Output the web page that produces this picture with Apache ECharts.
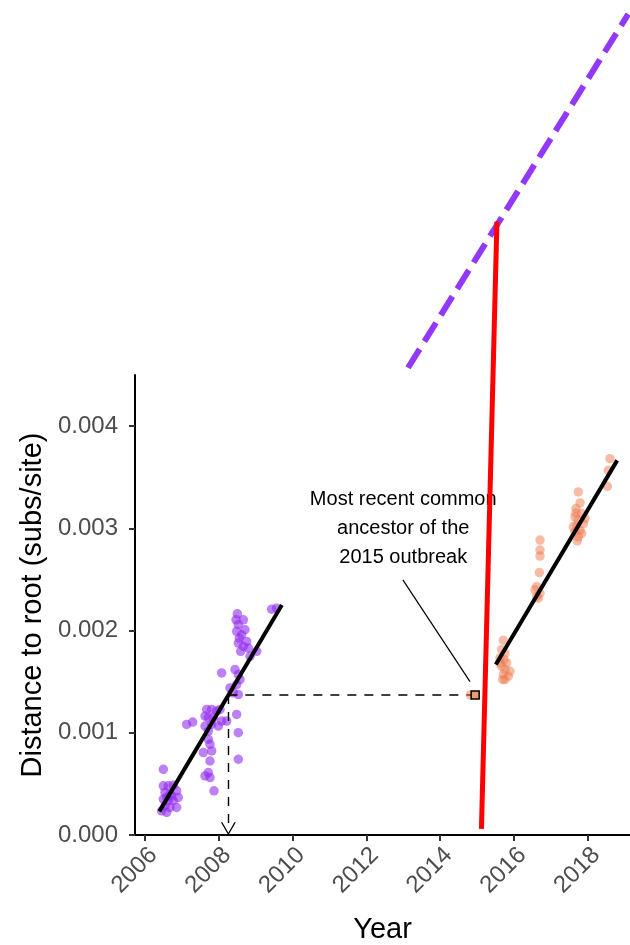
<!DOCTYPE html>
<html>
<head>
<meta charset="utf-8">
<script src="https://cdn.jsdelivr.net/npm/echarts@6/dist/echarts.min.js"></script>
<style>
html,body{margin:0;padding:0;background:#fff;}
#chart{width:630px;height:945px;}
</style>
</head>
<body>
<div id="chart"></div>
<script>
// ---- data ----
const yearTicks = [2006, 2008, 2010, 2012, 2014, 2016, 2018];
const distTicks = [0, 0.001, 0.002, 0.003, 0.004];

const purpleX = [2009.434, 2009.569, 2008.503, 2008.666, 2008.467, 2008.530, 2008.711, 2008.485, 2008.620, 2008.557,
  2008.756, 2008.530, 2008.666, 2008.593, 2008.801, 2009.027, 2008.846, 2008.078, 2008.440, 2008.530,
  2008.575, 2008.485, 2008.304, 2008.395, 2008.530, 2007.672, 2007.807, 2007.943, 2008.033, 2007.627,
  2007.717, 2007.852, 2008.078, 2008.214, 2007.129, 2007.292, 2007.627, 2007.807, 2007.988, 2008.485,
  2008.530, 2007.717, 2007.717, 2007.762, 2007.807, 2007.581, 2007.762, 2008.530, 2007.717, 2007.627,
  2007.762, 2007.870, 2006.497, 2006.497, 2006.633, 2006.768, 2006.542, 2006.678, 2006.858, 2006.903,
  2006.497, 2006.633, 2006.768, 2006.542, 2006.678, 2006.858, 2006.587, 2006.452, 2006.723, 2006.587];
const purpleY = [0.002209, 0.002219, 0.002164, 0.002105, 0.002105, 0.002057, 0.002008, 0.001992, 0.001959, 0.001927,
  0.001894, 0.001878, 0.001845, 0.001797, 0.001829, 0.001797, 0.001748, 0.001585, 0.001618, 0.001569,
  0.001520, 0.001472, 0.001439, 0.001391, 0.001374, 0.001228, 0.001228, 0.001212, 0.001228, 0.001163,
  0.001147, 0.001147, 0.001114, 0.001114, 0.001082, 0.001105, 0.001066, 0.001082, 0.001066, 0.001179,
  0.001001, 0.001017, 0.000936, 0.000887, 0.000822, 0.000806, 0.000724, 0.000741, 0.000611, 0.000578,
  0.000562, 0.000432, 0.000643, 0.000481, 0.000481, 0.000487, 0.000416, 0.000400, 0.000432, 0.000367,
  0.000351, 0.000335, 0.000335, 0.000286, 0.000270, 0.000270, 0.000221, 0.000237, 0.000383, 0.000367];

const orangeX = [2018.605, 2018.560, 2018.533,
  2017.746, 2017.792, 2017.683, 2017.837, 2017.656, 2017.746, 2017.882, 2017.701, 2017.792, 2017.656,
  2017.837, 2017.746, 2017.719, 2017.611, 2017.927, 2017.683,
  2016.707, 2016.707, 2016.707, 2016.689, 2016.617, 2016.572, 2016.707, 2016.662, 2016.617,
  2015.713, 2015.668, 2015.759, 2015.623, 2015.732, 2015.804, 2015.668, 2015.759, 2015.894, 2015.713,
  2015.849, 2015.759, 2015.695, 2015.623];
const orangeY = [0.003681, 0.003567, 0.003411,
  0.003356, 0.003249, 0.003194, 0.003145, 0.003112, 0.003080, 0.003047, 0.003031, 0.002982, 0.002966,
  0.002950, 0.002917, 0.002878, 0.003015, 0.003096, 0.003151,
  0.002885, 0.002787, 0.002729, 0.002567, 0.002430, 0.002398, 0.002365, 0.002316, 0.002333,
  0.001904, 0.001813, 0.001780, 0.001732, 0.001715, 0.001683, 0.001650, 0.001618, 0.001602, 0.001569,
  0.001553, 0.001520, 0.001520, 0.001683];

const purpleFitX = [2006.39, 2009.71];
const purpleFitY = [0.000231, 0.002251];
const orangeFitX = [2015.51, 2018.80];
const orangeFitY = [0.001667, 0.003665];
const purpleProjX = [2013.13, 2019.10];
const purpleProjY = [0.004571, 0.008030];
const redX = [2015.12, 2015.54];
const redY = [0.00006, 0.00600];

const mrcaX = 2014.95;
const mrcaY = 0.00137;
const mrcaNodeX = 2014.82;
const projectedDate = 2008.26;
const noteX = 2013.0;
const noteY = 0.003;
const noteText = ['Most recent common', 'ancestor of the', '2015 outbreak'];
const leaderX = [2012.99, 2014.81];
const leaderY = [0.002495, 0.001501];

// ---- build ----
const zip = (xs, ys) => xs.map((x, i) => [x, ys[i]]);
const FONT = 'Liberation Sans, Arial, sans-serif';
const chart = echarts.init(document.getElementById('chart'), null, {renderer: 'canvas', width: 630, height: 945});

const vArrow = 'path://M0,12 L6,0 L12,12 L10.8,12 L6,2.4 L1.2,12 Z';

chart.setOption({
  animation: false,
  backgroundColor: '#ffffff',
  grid: {left: 135, width: 495, top: 375, height: 461, containLabel: false},
  xAxis: {
    type: 'value', min: 2005.729, max: 2019.147,
    name: 'Year', nameLocation: 'middle', nameGap: 80,
    nameTextStyle: {fontFamily: FONT, fontSize: 29, color: '#000'},
    axisLine: {show: true, lineStyle: {color: '#000', width: 2}},
    axisTick: {show: true, customValues: yearTicks, length: 6, lineStyle: {color: '#333', width: 2}},
    axisLabel: {customValues: yearTicks, rotate: 45, margin: 8, verticalAlign: 'top',
      fontFamily: FONT, fontSize: 24, color: '#4d4d4d',
      formatter: v => String(Math.round(v))},
    splitLine: {show: false}
  },
  yAxis: {
    type: 'value', min: 0, max: 0.0045,
    name: 'Distance to root (subs/site)', nameLocation: 'middle', nameGap: 87,
    nameTextStyle: {fontFamily: FONT, fontSize: 29, color: '#000'},
    axisLine: {show: true, lineStyle: {color: '#000', width: 2}},
    axisTick: {show: true, customValues: distTicks, length: 6, lineStyle: {color: '#333', width: 2}},
    axisLabel: {customValues: distTicks, margin: 17, fontFamily: FONT, fontSize: 24, color: '#4d4d4d',
      formatter: v => v.toFixed(3)},
    splitLine: {show: false}
  },
  series: [
    {type: 'scatter', data: zip(purpleX, purpleY), symbolSize: 9.5, z: 2,
      itemStyle: {color: '#912cee', opacity: 0.6}},
    {type: 'scatter', data: zip(orangeX, orangeY), symbolSize: 9.5, z: 2,
      itemStyle: {color: '#ee7a50', opacity: 0.5}},
    {type: 'line', data: zip(purpleFitX, purpleFitY), symbol: 'none', z: 3,
      lineStyle: {color: '#000', width: 4}},
    {type: 'line', data: zip(orangeFitX, orangeFitY), symbol: 'none', z: 3,
      lineStyle: {color: '#000', width: 4}},
    {type: 'line', data: [[projectedDate, mrcaY], [mrcaX, mrcaY]], symbol: 'none', z: 4,
      lineStyle: {color: '#000', width: 1.4, type: [9, 8]},
      markLine: {
        silent: true, animation: false, label: {show: false},
        lineStyle: {color: '#000', width: 1.4, type: [9, 8]},
        data: [[{coord: [projectedDate, mrcaY], symbol: 'none'},
                {coord: [projectedDate, 0.00006], symbol: vArrow, symbolSize: [15, 13]}]]
      }},
    {type: 'scatter', data: [[mrcaNodeX, mrcaY]], symbolSize: 9.5, z: 4,
      itemStyle: {color: '#ee7a50', opacity: 0.5}},
    {type: 'scatter', data: [[mrcaX, mrcaY]], symbol: 'rect', symbolSize: 8, z: 5,
      itemStyle: {color: '#f09a74', borderColor: '#000', borderWidth: 1.5, opacity: 1}},
    {type: 'line', data: zip(leaderX, leaderY), symbol: 'none', z: 4,
      lineStyle: {color: '#000', width: 1.2}},
    {type: 'scatter', data: [[noteX, noteY]], symbolSize: 0, z: 6,
      itemStyle: {opacity: 1},
      label: {show: true, position: 'inside', formatter: noteText.join('\n'), fontFamily: FONT,
        fontSize: 20, lineHeight: 29, color: '#000', opacity: 1, textBorderWidth: 0, align: 'center'}},
    {type: 'line', data: zip(purpleProjX, purpleProjY), symbol: 'none', clip: false, z: 6,
      lineStyle: {color: '#9238fb', width: 6, type: [22, 9], cap: 'butt'}},
    {type: 'line', data: zip(redX, redY), symbol: 'none', clip: false, z: 7,
      lineStyle: {color: '#ff0000', width: 5}}
  ]
});
</script>
</body>
</html>
